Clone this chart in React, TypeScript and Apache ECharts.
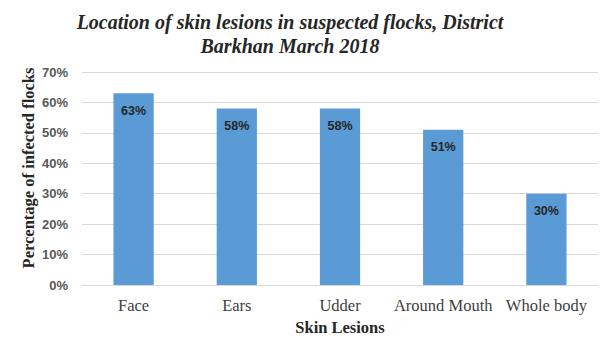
import React, { useEffect, useRef } from "react";
import * as echarts from "echarts";

const categories = ["Face", "Ears", "Udder", "Around Mouth", "Whole body"];
const values = [63, 58, 58, 51, 30];
const yTicks = [0, 10, 20, 30, 40, 50, 60, 70];
const yTitle = "Percentage of infected flocks";

export default function App() {
  const ref = useRef<HTMLDivElement>(null);
  useEffect(() => {
    document.body.style.margin = "0";
    const chart = echarts.init(ref.current!, null, { renderer: "svg" });
    chart.setOption({
      animation: false,
      backgroundColor: "#ffffff",
      title: {
        text: "Location of skin lesions in suspected flocks, District\nBarkhan March 2018",
        left: 285,
        top: 5,
        textAlign: "center",
        textStyle: {
          fontFamily: "Liberation Serif",
          fontStyle: "italic",
          fontWeight: "bold",
          fontSize: 20,
          lineHeight: 24,
          color: "#262626",
        },
      },
      graphic: [
        {
          type: "text",
          x: 28,
          y: 168,
          rotation: Math.PI / 2,
          style: {
            text: yTitle,
            align: "center",
            verticalAlign: "middle",
            fontFamily: "Liberation Serif",
            fontWeight: "bold",
            fontSize: 16.5,
            fill: "#262626",
          },
        },
      ],
      grid: { left: 82, right: 9, top: 72, bottom: 66 },
      xAxis: {
        type: "category",
        data: categories,
        name: "Skin Lesions",
        nameLocation: "middle",
        nameGap: 34,
        nameTextStyle: {
          fontFamily: "Liberation Serif",
          fontWeight: "bold",
          fontSize: 16.5,
          color: "#262626",
        },
        axisTick: { show: false },
        axisLine: { lineStyle: { color: "#D9D9D9" } },
        axisLabel: {
          fontFamily: "Liberation Serif",
          fontSize: 16.5,
          color: "#404040",
          margin: 12,
          interval: 0,
        },
      },
      yAxis: {
        type: "value",
        min: 0,
        max: 70,
        interval: 10,
        axisLabel: {
          formatter: (v: number) => (yTicks.includes(v) ? v + "%" : ""),
          fontFamily: "Liberation Sans",
          fontWeight: "bold",
          fontSize: 13,
          color: "#595959",
          margin: 14,
        },
        splitLine: { lineStyle: { color: "#D9D9D9" } },
        axisLine: { show: false },
        axisTick: { show: false },
      },
      series: [
        {
          type: "bar",
          data: values,
          barWidth: "39%",
          itemStyle: { color: "#5B9BD5" },
          label: {
            show: true,
            position: "insideTop",
            distance: 11,
            formatter: "{c}%",
            fontFamily: "Liberation Sans",
            fontWeight: "bold",
            fontSize: 12.5,
            color: "#262626",
          },
        },
      ],
    });
    return () => chart.dispose();
  }, []);
  return <div ref={ref} style={{ width: 607, height: 351 }} />;
}
